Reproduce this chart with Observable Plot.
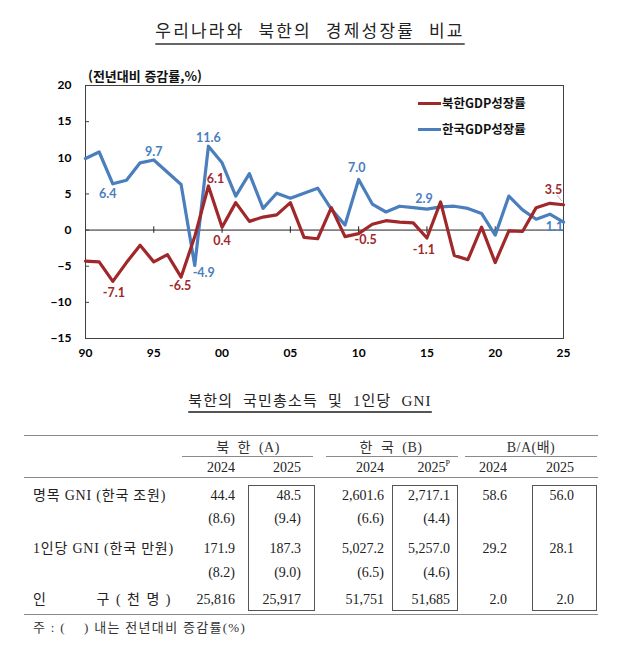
<!DOCTYPE html>
<html lang="ko">
<head>
<meta charset="utf-8">
<script src="https://cdn.jsdelivr.net/npm/d3@7"></script>
<script src="https://cdn.jsdelivr.net/npm/@observablehq/plot@0.6"></script>
<style>
  html, body { margin: 0; padding: 0; background: #fff; }
  #page { position: relative; width: 640px; height: 649px; overflow: hidden;
          font-family: "Noto Sans CJK KR", sans-serif; color: #222; }
  .abs { position: absolute; white-space: nowrap; }
  .serif { font-family: "Liberation Serif", "Noto Sans CJK KR", serif; }
  .rule { position: absolute; height: 0; border-top: 1.5px solid #8a8a8a; }
  .box { position: absolute; border: 1px solid #555; box-sizing: border-box; }
  #chart { position: absolute; left: 0; top: 60px; }
  sup { font-size: 8px; vertical-align: 6px; line-height: 0; }
</style>
</head>
<body>
<div id="page"></div>
<script>
// ---- GDP growth, year over year (%) ----
const years = [1990, 1991, 1992, 1993, 1994, 1995, 1996, 1997, 1998, 1999,
               2000, 2001, 2002, 2003, 2004, 2005, 2006, 2007, 2008, 2009,
               2010, 2011, 2012, 2013, 2014, 2015, 2016, 2017, 2018, 2019,
               2020, 2021, 2022, 2023, 2024, 2025];
const northKoreaGrowth = [-4.3, -4.4, -7.1, -4.5, -2.1, -4.4, -3.4, -6.5, -0.9, 6.1,
                          0.4, 3.8, 1.2, 1.8, 2.1, 3.8, -1.0, -1.2, 3.1, -0.9,
                          -0.5, 0.8, 1.3, 1.1, 1.0, -1.1, 3.9, -3.5, -4.1, 0.4,
                          -4.5, -0.1, -0.2, 3.1, 3.7, 3.5];
const southKoreaGrowth = [9.9, 10.8, 6.4, 6.9, 9.3, 9.7, 8.0, 6.3, -4.9, 11.6,
                          9.3, 4.7, 7.8, 3.0, 5.1, 4.4, 5.1, 5.8, 2.9, 0.7,
                          7.0, 3.6, 2.5, 3.3, 3.1, 2.9, 3.2, 3.3, 3.0, 2.3,
                          -0.7, 4.7, 2.8, 1.5, 2.2, 1.1];
const seriesNames = ["북한GDP성장률", "한국GDP성장률"];
const northLabelYears = [1992, 1997, 1999, 2000, 2010, 2015, 2025];
const southLabelYears = [1992, 1995, 1998, 1999, 2010, 2015, 2025];
const xTickYears = [1990, 1995, 2000, 2005, 2010, 2015, 2020, 2025];
const yTickValues = [-15, -10, -5, 0, 5, 10, 15, 20];

// ---- North Korea GNI table ----
const chartTitle = "우리나라와 북한의 경제성장률 비교";
const yAxisTitle = "(전년대비 증감률,%)";
const tableTitle = "북한의 국민총소득 및 1인당 GNI";
const tableGroups = ["북 한 (A)", "한 국 (B)", "B/A(배)"];
const tableYears = ["2024", "2025", "2024", "2025", "2024", "2025"];
const provisionalMark = ["", "", "", "P", "", ""];
const rowLabels = ["명목 GNI (한국 조원)", "1인당 GNI (한국 만원)"];
const populationLabel = ["인", "구 ( 천 명 )"];
const nominalGNI = [44.4, 48.5, 2601.6, 2717.1, 58.6, 56.0];
const nominalGNIGrowth = [8.6, 9.4, 6.6, 4.4];
const perCapitaGNI = [171.9, 187.3, 5027.2, 5257.0, 29.2, 28.1];
const perCapitaGNIGrowth = [8.2, 9.0, 6.5, 4.6];
const population = [25816, 25917, 51751, 51685, 2.0, 2.0];
const tableNote = "주 : (   ) 내는 전년대비 증감률(%)";

const RED = "#a0282b";
const BLUE = "#4a7ebd";

const page = document.getElementById("page");

function put(html, x, y, opts = {}) {
  const {align = "left", size = 14, weight = 400, cls = "", color = null, spacing = null, lh = 20} = opts;
  const el = document.createElement("div");
  el.className = "abs " + cls;
  el.innerHTML = html;
  el.style.fontSize = size + "px";
  el.style.fontWeight = weight;
  el.style.lineHeight = lh + "px";
  el.style.top = (y - lh / 2) + "px";
  if (color) el.style.color = color;
  if (spacing != null) el.style.letterSpacing = spacing + "px";
  if (align === "left") el.style.left = x + "px";
  else if (align === "right") el.style.right = (640 - x) + "px";
  else { el.style.left = x + "px"; el.style.transform = "translateX(-50%)"; }
  page.appendChild(el);
  return el;
}
function rule(x1, x2, y) {
  const el = document.createElement("div");
  el.className = "rule";
  el.style.left = x1 + "px";
  el.style.width = (x2 - x1) + "px";
  el.style.top = y + "px";
  page.appendChild(el);
}
function box(x1, x2, y1, y2) {
  const el = document.createElement("div");
  el.className = "box";
  Object.assign(el.style, {left: x1 + "px", top: y1 + "px", width: (x2 - x1) + "px", height: (y2 - y1) + "px"});
  page.appendChild(el);
}

// ---- chart title ----
const t1 = put(chartTitle.replace(/ /g, "&nbsp;&nbsp;"), 310, 30, {align: "center", size: 17, spacing: 2.2, color: "#222"});
t1.style.textDecoration = "underline";
t1.style.textUnderlineOffset = "6px";
t1.style.textDecorationThickness = "1.5px";
t1.style.textDecorationColor = "#666";

put(yAxisTitle, 88, 76, {size: 13, weight: 700, color: "#111"});

// ---- line chart ----
const north = years.map((year, i) => ({year, value: northKoreaGrowth[i]}));
const south = years.map((year, i) => ({year, value: southKoreaGrowth[i]}));

const northOffsets = {1992: [1, 12], 1997: [-1, 9], 1999: [7, -7], 2000: [0, 14], 2010: [7, 6], 2015: [-3, 12], 2025: [-10, -15]};
const southOffsets = {1992: [-5, 10], 1995: [0, -8], 1998: [9, 8], 1999: [0, -8], 2010: [-2, -11], 2015: [-3, -10], 2025: [-9, 5]};

const labelMarks = [];
for (const [rows, labelYears, offsets, color] of [[north, northLabelYears, northOffsets, RED], [south, southLabelYears, southOffsets, BLUE]]) {
  for (const yr of labelYears) {
    const d = rows.find(r => r.year === yr);
    const [dx, dy] = offsets[yr];
    labelMarks.push(Plot.text([d], {x: "year", y: "value", text: r => r.value.toFixed(1), dx, dy, fill: color, fontSize: 12.5}));
  }
}

const lastNorth = north[north.length - 1];
const zeroLineTicks = xTickYears.slice(1, -1);

const chart = Plot.plot({
  width: 640,
  height: 305,
  marginTop: 25,
  marginBottom: 27,
  marginLeft: 85,
  marginRight: 77,
  x: {domain: [1990, 2025]},
  y: {domain: [-15, 20]},
  style: {fontFamily: "Lato, 'Noto Sans CJK KR', sans-serif", fontSize: "12px", fontWeight: "bold", color: "#000", background: "transparent", overflow: "visible"},
  marks: [
    Plot.frame({stroke: "#404040"}),
    Plot.ruleY([0], {stroke: "#222"}),
    Plot.ruleX(zeroLineTicks, {y1: -0.45, y2: 0.45, stroke: "#222"}),
    Plot.axisY(yTickValues, {tickSize: 4, dx: 4, tickFormat: () => "", stroke: "#404040", label: null}),
    Plot.axisY(yTickValues, {tickSize: 0, tickPadding: 14, label: null}),
    Plot.axisX(xTickYears, {tickSize: 0, tickPadding: 10, tickFormat: d => String(d % 100).padStart(2, "0"), label: null}),
    Plot.lineY(south, {x: "year", y: "value", stroke: BLUE, strokeWidth: 3.2}),
    Plot.lineY(north, {x: "year", y: "value", stroke: RED, strokeWidth: 3.2}),
    ...labelMarks
  ]
});
chart.id = "chart";
page.appendChild(chart);

// short leader stroke from the 3.5 label towards its point
{
  const svg = d3.select(chart);
  const xs = chart.scale("x"), ys = chart.scale("y");
  const px = xs.apply(lastNorth.year), py = ys.apply(lastNorth.value);
  svg.append("line")
    .attr("x1", px - 6).attr("y1", py - 9)
    .attr("x2", px - 1).attr("y2", py - 3)
    .attr("stroke", "#c79090").attr("stroke-width", 0.8);
}

// legend
[[RED, 103], [BLUE, 129]].forEach(([color, y], i) => {
  const sw = document.createElement("div");
  Object.assign(sw.style, {position: "absolute", left: "418px", top: (y - 1.5) + "px", width: "23px", height: "3px", background: color});
  page.appendChild(sw);
  put(seriesNames[i], 442, y, {size: 12.5, weight: 700, color: "#111"});
});

// ---- table ----
const t2 = put(tableTitle.replace(/ /g, "&nbsp;&nbsp;"), 310, 401, {align: "center", size: 15, spacing: 1.2, cls: "serif", color: "#222"});
t2.style.textDecoration = "underline";
t2.style.textUnderlineOffset = "5px";
t2.style.textDecorationThickness = "1.5px";
t2.style.textDecorationColor = "#555";

const colRight = [235, 301, 384, 450, 507, 574];
const groupCenter = [248, 391, 531];
const groupSpan = [[182, 313], [326, 458], [465, 597]];
const boxSpan = [[248, 315], [392, 458], [532, 597]];

rule(24, 598, 435);
tableGroups.forEach((g, i) => {
  put(g.replace(/ /g, "&nbsp;&nbsp;"), groupCenter[i], 448, {align: "center", size: 14, cls: "serif", color: "#333", spacing: 0.5});
  rule(groupSpan[i][0], groupSpan[i][1], 456);
});
tableYears.forEach((yr, i) => {
  put(yr + (provisionalMark[i] ? `<sup>${provisionalMark[i]}</sup>` : ""), colRight[i], 468, {align: "right", size: 14, cls: "serif", color: "#222"});
});
rule(24, 598, 477);

boxSpan.forEach(([a, b]) => box(a, b, 485, 611));

const fmt1 = d3.format(",.1f");
const fmtInt = d3.format(",d");
const rowY = [496, 519, 549, 573, 600];

put(rowLabels[0].replace(" (", "&nbsp;("), 33, rowY[0], {size: 14, cls: "serif", spacing: 0.8});
put(rowLabels[1].replace(" (", "&nbsp;("), 33, rowY[2], {size: 14, cls: "serif", spacing: 0.8});
put(populationLabel[0], 33, rowY[4], {size: 14, cls: "serif"});
put(populationLabel[1], 172, rowY[4], {size: 14, cls: "serif", align: "right", spacing: 1.5});

nominalGNI.forEach((v, i) => put(fmt1(v), colRight[i], rowY[0], {align: "right", size: 14, cls: "serif"}));
nominalGNIGrowth.forEach((v, i) => put(`(${fmt1(v)})`, colRight[i], rowY[1], {align: "right", size: 14, cls: "serif"}));
perCapitaGNI.forEach((v, i) => put(fmt1(v), colRight[i], rowY[2], {align: "right", size: 14, cls: "serif"}));
perCapitaGNIGrowth.forEach((v, i) => put(`(${fmt1(v)})`, colRight[i], rowY[3], {align: "right", size: 14, cls: "serif"}));
population.forEach((v, i) => put(i < 4 ? fmtInt(v) : fmt1(v), colRight[i], rowY[4], {align: "right", size: 14, cls: "serif"}));

rule(24, 598, 614);
put(tableNote.replace(/ {3}/, "&nbsp;&nbsp;&nbsp;&nbsp;").replace(/ /g, "&nbsp;"), 33, 628, {size: 13, cls: "serif", color: "#333", spacing: 1.3});
</script>
</body>
</html>
